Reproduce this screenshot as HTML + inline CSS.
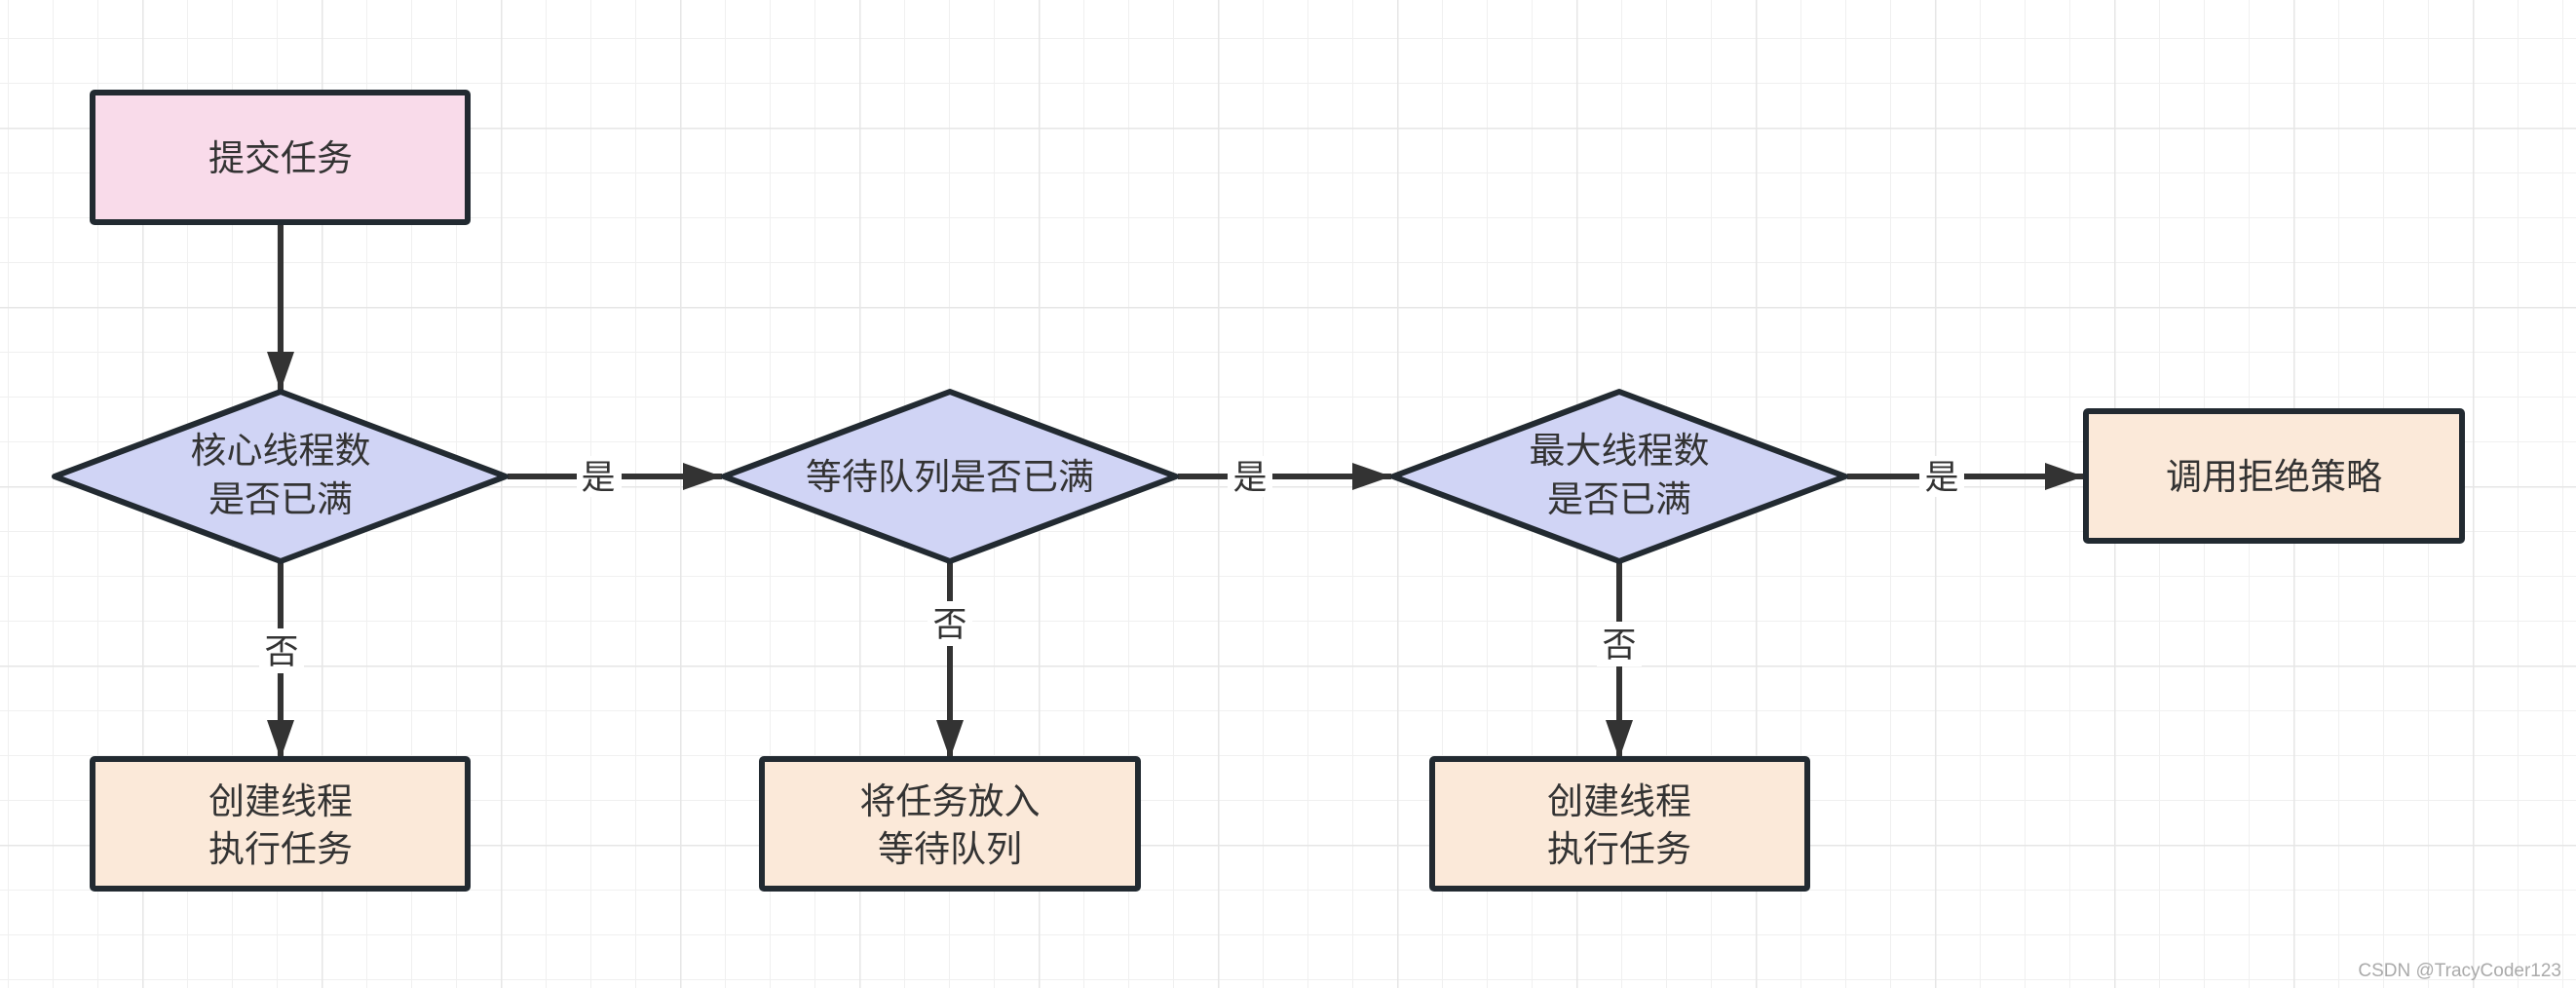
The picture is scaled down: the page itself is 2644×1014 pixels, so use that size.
<!DOCTYPE html>
<html><head><meta charset="utf-8"><style>
html,body{margin:0;padding:0;background:#fff;}
svg{display:block;}
text{font-family:"Liberation Sans","Noto Sans CJK SC",sans-serif;fill:#333;}
</style></head><body>
<svg width="2644" height="1014" viewBox="0 0 2644 1014" xmlns="http://www.w3.org/2000/svg">
<defs>
<pattern id="minor" x="8" y="-7" width="46" height="46" patternUnits="userSpaceOnUse">
<path d="M0 0V46M0 0H46" stroke="#f0f0f0" stroke-width="2" fill="none"/>
</pattern>
<pattern id="major" x="146" y="131" width="184" height="184" patternUnits="userSpaceOnUse">
<path d="M0 0V184M0 0H184" stroke="#e6e6e6" stroke-width="3" fill="none"/>
</pattern>
<marker id="ah" viewBox="0 0 40 28" refX="40" refY="14" markerWidth="40" markerHeight="28" markerUnits="userSpaceOnUse" orient="auto">
<path d="M0 0L40 14L0 28Z" fill="#333"/>
</marker>
</defs>
<rect width="2644" height="1014" fill="url(#minor)"/>
<rect width="2644" height="1014" fill="url(#major)"/>

<g stroke="#333" stroke-width="6" fill="none">
<line x1="288" y1="228" x2="288" y2="401" marker-end="url(#ah)"/>
<line x1="288" y1="576" x2="288" y2="779" marker-end="url(#ah)"/>
<line x1="975" y1="576" x2="975" y2="779" marker-end="url(#ah)"/>
<line x1="1662" y1="576" x2="1662" y2="779" marker-end="url(#ah)"/>
<line x1="521" y1="489" x2="741" y2="489" marker-end="url(#ah)"/>
<line x1="1209" y1="489" x2="1428" y2="489" marker-end="url(#ah)"/>
<line x1="1896" y1="489" x2="2139" y2="489" marker-end="url(#ah)"/>
</g>

<g stroke="#222a31" stroke-width="6" stroke-linejoin="round">
<rect x="95" y="95" width="385" height="133" fill="#f9dbea" rx="2"/>
<polygon points="56,489 288,402 519,489 288,576" fill="#d0d4f5"/>
<polygon points="743,489 975,402 1207,489 975,576" fill="#d0d4f5"/>
<polygon points="1430,489 1662,402 1894,489 1662,576" fill="#d0d4f5"/>
<rect x="2141" y="422" width="386" height="133" fill="#fbe9d9" rx="2"/>
<rect x="95" y="779" width="385" height="133" fill="#fbe9d9" rx="2"/>
<rect x="782" y="779" width="386" height="133" fill="#fbe9d9" rx="2"/>
<rect x="1470" y="779" width="385" height="133" fill="#fbe9d9" rx="2"/>
</g>

<g fill="#fff">
<rect x="592" y="468" width="46" height="42"/>
<rect x="1260" y="468" width="46" height="42"/>
<rect x="1970" y="468" width="46" height="42"/>
<rect x="266" y="645" width="46" height="46"/>
<rect x="952" y="617" width="46" height="46"/>
<rect x="1639" y="638" width="46" height="46"/>
</g>

<g font-size="37" text-anchor="middle">
<text x="288" y="175">提交任务</text>
<text x="288" y="475">核心线程数</text>
<text x="288" y="525">是否已满</text>
<text x="975" y="502">等待队列是否已满</text>
<text x="1662" y="475">最大线程数</text>
<text x="1662" y="525">是否已满</text>
<text x="2334" y="502">调用拒绝策略</text>
<text x="288" y="835">创建线程</text>
<text x="288" y="884">执行任务</text>
<text x="975" y="835">将任务放入</text>
<text x="975" y="884">等待队列</text>
<text x="1662" y="835">创建线程</text>
<text x="1662" y="884">执行任务</text>
</g>
<g font-size="35" text-anchor="middle">
<text x="614" y="502">是</text>
<text x="1283" y="502">是</text>
<text x="1993" y="502">是</text>
<text x="289" y="681">否</text>
<text x="975" y="653">否</text>
<text x="1662" y="674">否</text>
</g>
<text x="2629" y="1002" font-size="19" text-anchor="end" style="fill:#aaa">CSDN @TracyCoder123</text>
</svg>
</body></html>
